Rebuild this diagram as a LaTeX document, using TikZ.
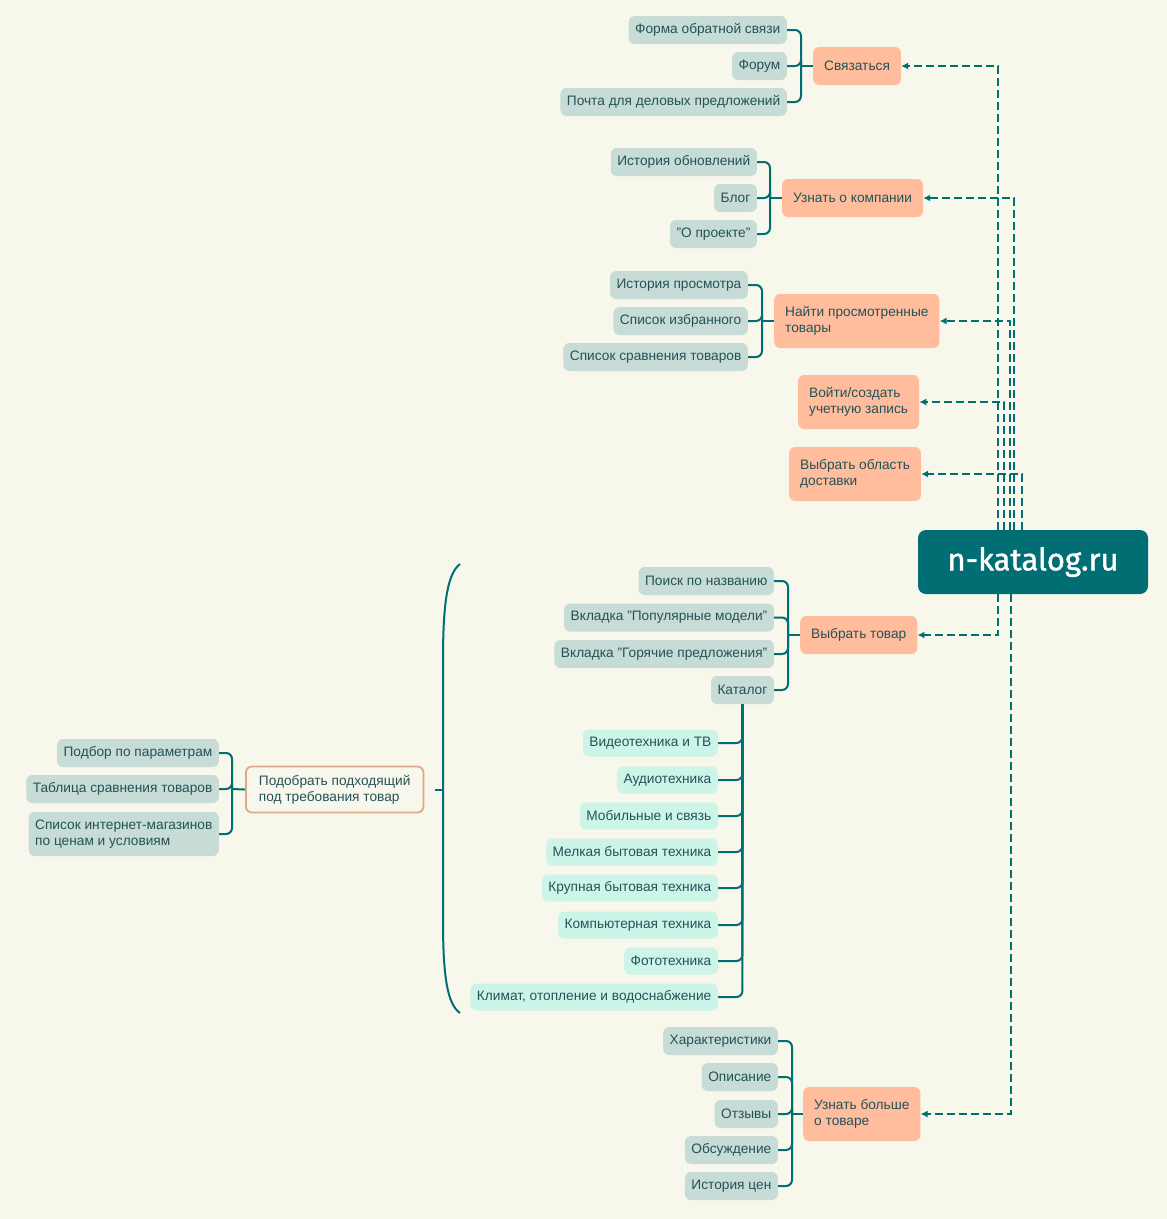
\documentclass[tikz,border=0pt]{standalone}
\usepackage{fontspec}
\setmainfont{Liberation Sans}
\newfontfamily\brandfont[FakeBold=1.2]{Fira Sans}
\usetikzlibrary{arrows.meta,calc}
\definecolor{bgc}{RGB}{248,247,236}
\definecolor{tealc}{RGB}{0,110,115}
\definecolor{txtc}{RGB}{36,82,86}
\definecolor{orangef}{RGB}{255,189,157}
\definecolor{grayf}{RGB}{199,220,215}
\definecolor{mintf}{RGB}{204,244,232}
\definecolor{outlinec}{RGB}{221,170,136}
\begin{document}
\begin{tikzpicture}[x=1pt,y=-1pt,
  base/.style={rounded corners=6pt, font=\fontsize{13.7}{16}\selectfont, text=txtc, inner xsep=6.5pt, inner ysep=0pt, minimum height=28pt},
  leaf/.style={base, fill=grayf, anchor=east},
  leaftwo/.style={leaf, align=left, minimum height=44pt},
  mint/.style={base, fill=mintf, anchor=east, minimum height=27pt},
  topic/.style={base, fill=orangef, anchor=west, minimum height=38pt, inner xsep=11pt},
  topictwo/.style={topic, align=left, minimum height=54pt},
  outlinetopic/.style={base, fill=bgc, draw=outlinec, line width=1.8pt, anchor=west, align=left, minimum height=46pt, inner xsep=13pt},
  centernode/.style={rounded corners=8pt, fill=tealc, text=white, font=\brandfont\fontsize{31}{34}\selectfont, minimum width=230pt, minimum height=64pt},
  conn/.style={draw=tealc, line width=2pt, rounded corners=6pt},
  dasharrow/.style={draw=tealc, line width=2.2pt, dash pattern=on 8pt off 4pt, -{Latex[length=7pt,width=7pt]}}
]
\fill[bgc] (0,0) rectangle (1167,1219);
\useasboundingbox (0,0) rectangle (1167,1219);

% center
\node[centernode] (c) at (1033,562) {n-katalog.ru};

% Связаться
\node[leaf] (a1) at (787,30) {Форма обратной связи};
\node[leaf] (a2) at (787,66) {Форум};
\node[leaf] (a3) at (787,102) {Почта для деловых предложений};
\node[topic] (t1) at (813,66) {Связаться};
\coordinate (ba) at (801,66);
\foreach \n in {a1,a2,a3} \draw[conn] (\n.east) -| (ba);
\draw[conn] (ba) -- (t1.west);

% Узнать о компании
\node[leaf] (b1) at (757,162) {История обновлений};
\node[leaf] (b2) at (757,198) {Блог};
\node[leaf] (b3) at (757,234) {"О проекте"};
\node[topic] (t2) at (782,198) {Узнать о компании};
\coordinate (bb) at (770,198);
\foreach \n in {b1,b2,b3} \draw[conn] (\n.east) -| (bb);
\draw[conn] (bb) -- (t2.west);

% Найти просмотренные товары
\node[leaf] (c1) at (748,285) {История просмотра};
\node[leaf] (c2) at (748,321) {Список избранного};
\node[leaf] (c3) at (748,357) {Список сравнения товаров};
\node[topictwo] (t3) at (774,321) {Найти просмотренные\\товары};
\coordinate (bc) at (762,321);
\foreach \n in {c1,c2,c3} \draw[conn] (\n.east) -| (bc);
\draw[conn] (bc) -- (t3.west);

% Войти / Выбрать область
\node[topictwo] (t4) at (798,402) {Войти/создать\\учетную запись};
\node[topictwo] (t5) at (789,474) {Выбрать область\\доставки};

% Выбрать товар
\node[leaf] (d1) at (774,581) {Поиск по названию};
\node[leaf] (d2) at (774,617.5) {Вкладка "Популярные модели"};
\node[leaf] (d3) at (774,654) {Вкладка "Горячие предложения"};
\node[leaf] (kat) at (774,690) {Каталог};
\node[topic] (t6) at (800,635) {Выбрать товар};
\coordinate (bd) at (788,635);
\foreach \n in {d1,d2,d3,kat} \draw[conn] (\n.east) -| (bd);
\draw[conn] (bd) -- (t6.west);

% Каталог children
\node[mint] (m1) at (718,743) {Видеотехника и ТВ};
\node[mint] (m2) at (718,780) {Аудиотехника};
\node[mint] (m3) at (718,816) {Мобильные и связь};
\node[mint] (m4) at (718,852) {Мелкая бытовая техника};
\node[mint] (m5) at (718,888) {Крупная бытовая техника};
\node[mint] (m6) at (718,925) {Компьютерная техника};
\node[mint] (m7) at (718,961) {Фототехника};
\node[mint] (m8) at (718,997) {Климат, отопление и водоснабжение};
\foreach \n in {m1,m2,m3,m4,m5,m6,m7,m8} \draw[conn] (kat.south) |- (\n.east);

% Подобрать
\node[leaf] (e1) at (219,753) {Подбор по параметрам};
\node[leaf] (e2) at (219,789) {Таблица сравнения товаров};
\node[leaftwo] (e3) at (219,834) {Список интернет-магазинов\\по ценам и условиям};
\node[outlinetopic] (t7) at (245,789.5) {Подобрать подходящий\\под требования товар};
\coordinate (be) at (232,789);
\foreach \n in {e1,e2,e3} \draw[conn] (\n.east) -| (be);
\draw[conn] (be) -- (t7.west);

% big bracket
\coordinate (brtop) at (460,564);
\coordinate (brbot) at (460,1013);
\coordinate (brmid) at (443,790);
\coordinate (brtick) at (435,790);
\draw[draw=tealc, line width=2pt] (brtop) .. controls (447,574) and (443,605) .. (443,660) -- (443,920) .. controls (443,975) and (447,1004) .. (brbot);
\draw[draw=tealc, line width=2pt] (brtick) -- (brmid);

% Узнать больше о товаре
\node[leaf] (g1) at (778,1041) {Характеристики};
\node[leaf] (g2) at (778,1077) {Описание};
\node[leaf] (g3) at (778,1114) {Отзывы};
\node[leaf] (g4) at (778,1150) {Обсуждение};
\node[leaf] (g5) at (778,1186) {История цен};
\node[topictwo] (t8) at (803,1114) {Узнать больше\\о товаре};
\coordinate (bg) at (792,1114);
\foreach \n in {g1,g2,g3,g4,g5} \draw[conn] (\n.east) -| (bg);
\draw[conn] (bg) -- (t8.west);

% dashed arrows
\draw[dasharrow] ($(c.north west)+(80,0)$) |- (t1.east);
\draw[dasharrow] ($(c.north west)+(96,0)$) |- (t2.east);
\draw[dasharrow] ($(c.north west)+(92,0)$) |- (t3.east);
\draw[dasharrow] ($(c.north west)+(86,0)$) |- (t4.east);
\draw[dasharrow] ($(c.north west)+(104,0)$) |- (t5.east);
\draw[dasharrow] ($(c.south west)+(80,0)$) |- (t6.east);
\draw[dasharrow] ($(c.south west)+(93,0)$) |- (t8.east);
\end{tikzpicture}
\end{document}
